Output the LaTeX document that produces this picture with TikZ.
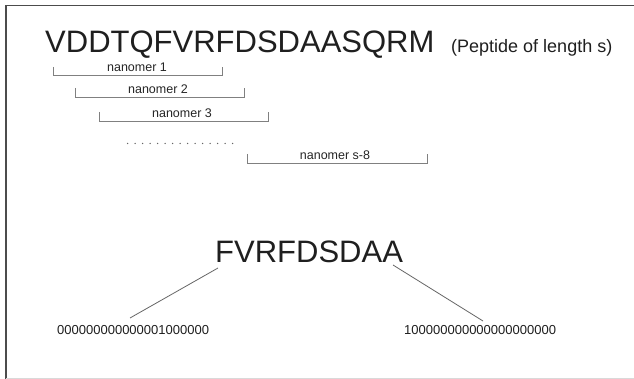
\documentclass[tikz,border=0pt]{standalone}
\usepackage{fontspec}
\setmainfont{Liberation Sans}
\begin{document}
\begin{tikzpicture}[x=1pt,y=-1pt,
  txt/.style={inner sep=0pt, anchor=base west, text=black!88},
  big/.style={txt, font=\fontsize{31}{31}\selectfont},
  mid/.style={txt, font=\fontsize{18}{18}\selectfont},
  lab/.style={inner sep=0pt, anchor=base, text=black!85, font=\fontsize{12.5}{12.5}\selectfont},
  bits/.style={txt, font=\fontsize{13}{13}\selectfont},
  bracket/.style={draw=black!50, line width=0.8pt},
  link/.style={draw=black!60, line width=0.8pt},
  frame/.style={draw=black!70, line width=1.3pt}]
\useasboundingbox (0,0) rectangle (634,379);
\fill[white] (0,0) rectangle (634,379);

% outer frame
\draw[frame] (6,379) -- (6,5.5) -- (634,5.5);
\draw[draw=black!15, line width=1pt] (6,378) -- (634,378);

% full peptide
\node[big] (pep) at (45,53) {VDDTQFVRFDSDAASQRM};
\node[mid] (plen) at (451,53) {(Peptide of length s)};

% sliding nanomer windows
\draw[bracket] (53,67) |- (222,75) -- (222,67);
\node[lab] (n1) at (137,72) {nanomer 1};
\draw[bracket] (75,88) |- (244,97.5) -- (244,88);
\node[lab] (n2) at (158,94) {nanomer 2};
\draw[bracket] (99,112) |- (268,121.5) -- (268,112);
\node[lab] (n3) at (182,118) {nanomer 3};
\foreach \i in {0,...,14}
  \fill[black!60] (127.5+7.5*\i,143.5) circle (0.75pt);
\draw[bracket] (247,154) |- (427,163) -- (427,154);
\node[lab] (ns) at (335,160) {nanomer s-8};

% one nanomer and its encodings
\node[big] (frag) at (215,262) {FVRFDSDAA};
\node[bits] (bleft) at (57,334) {000000000000001000000};
\node[bits] (bright) at (404,334) {100000000000000000000};
\coordinate (fl) at (218,268);
\coordinate (fr) at (393,265);
\coordinate (bl) at (130,318);
\coordinate (br) at (483,321);
\draw[link] (fl) -- (bl);
\draw[link] (fr) -- (br);
\end{tikzpicture}
\end{document}
